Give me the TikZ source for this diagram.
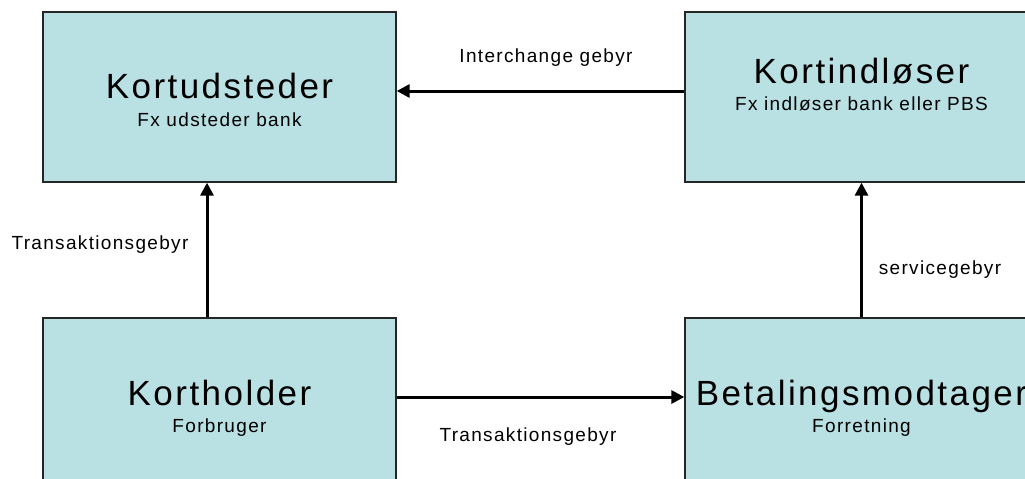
\documentclass[tikz,border=0pt]{standalone}
\usepackage{fontspec}
\setmainfont{Liberation Sans}[LetterSpace=7]
\usetikzlibrary{arrows.meta}

\definecolor{boxfill}{RGB}{185,224,227}

\begin{document}
\begin{tikzpicture}[x=1pt, y=-1pt,
    party/.style={draw=black!85, line width=1.3pt, fill=boxfill, rectangle, minimum width=353pt, minimum height=170pt},
    partytitle/.style={anchor=base, font=\fontsize{35}{40}\selectfont},
    partyrole/.style={anchor=base, font=\fontsize{19}{22}\selectfont},
    fee/.style={font=\fontsize{19}{22}\selectfont},
    flow/.style={line width=3pt, -{Triangle[length=13pt, width=13pt]}}]
        \useasboundingbox (0,0) rectangle (1025,479);
        \clip (0,0) rectangle (1025,479);
        % the four parties
        \node[party] (kud) at (219.5,97) {};
        \node[party] (kih) at (861.5,97) {};
        \node[party] (kh) at (219.5,403) {};
        \node[party] (bm) at (861.5,403) {};
        \node[partytitle] (kud-n) at (219.5,98) {Kortudsteder};
        \node[partyrole] (kud-r) at (219.5,126) {Fx udsteder bank};
        \node[partytitle] (kih-n) at (861.5,83) {Kortindløser};
        \node[partyrole] (kih-r) at (861.5,110) {Fx indløser bank eller PBS};
        \node[partytitle] (kh-n) at (219.5,405) {Kortholder};
        \node[partyrole] (kh-r) at (219.5,432) {Forbruger};
        \node[partytitle] (bm-n) at (861.5,405) {Betalingsmodtager};
        \node[partyrole] (bm-r) at (861.5,432) {Forretning};
        % fees
        \draw[flow] (kih.west |- 0,91) -- (kud.east |- 0,91);
        \draw[flow] (kh.north -| 207,0) -- (kud.south -| 207,0);
        \draw[flow] (kh.east |- 0,397) -- (bm.west |- 0,397);
        \draw[flow] (bm.north) -- (kih.south);
        \node[fee] (f1) at (546,58) {Interchange gebyr};
        \node[fee] (f2) at (100,245) {Transaktionsgebyr};
        \node[fee] (f3) at (528,437) {Transaktionsgebyr};
        \node[fee] (f4) at (940,270) {servicegebyr};
    \end{tikzpicture}
\end{document}
